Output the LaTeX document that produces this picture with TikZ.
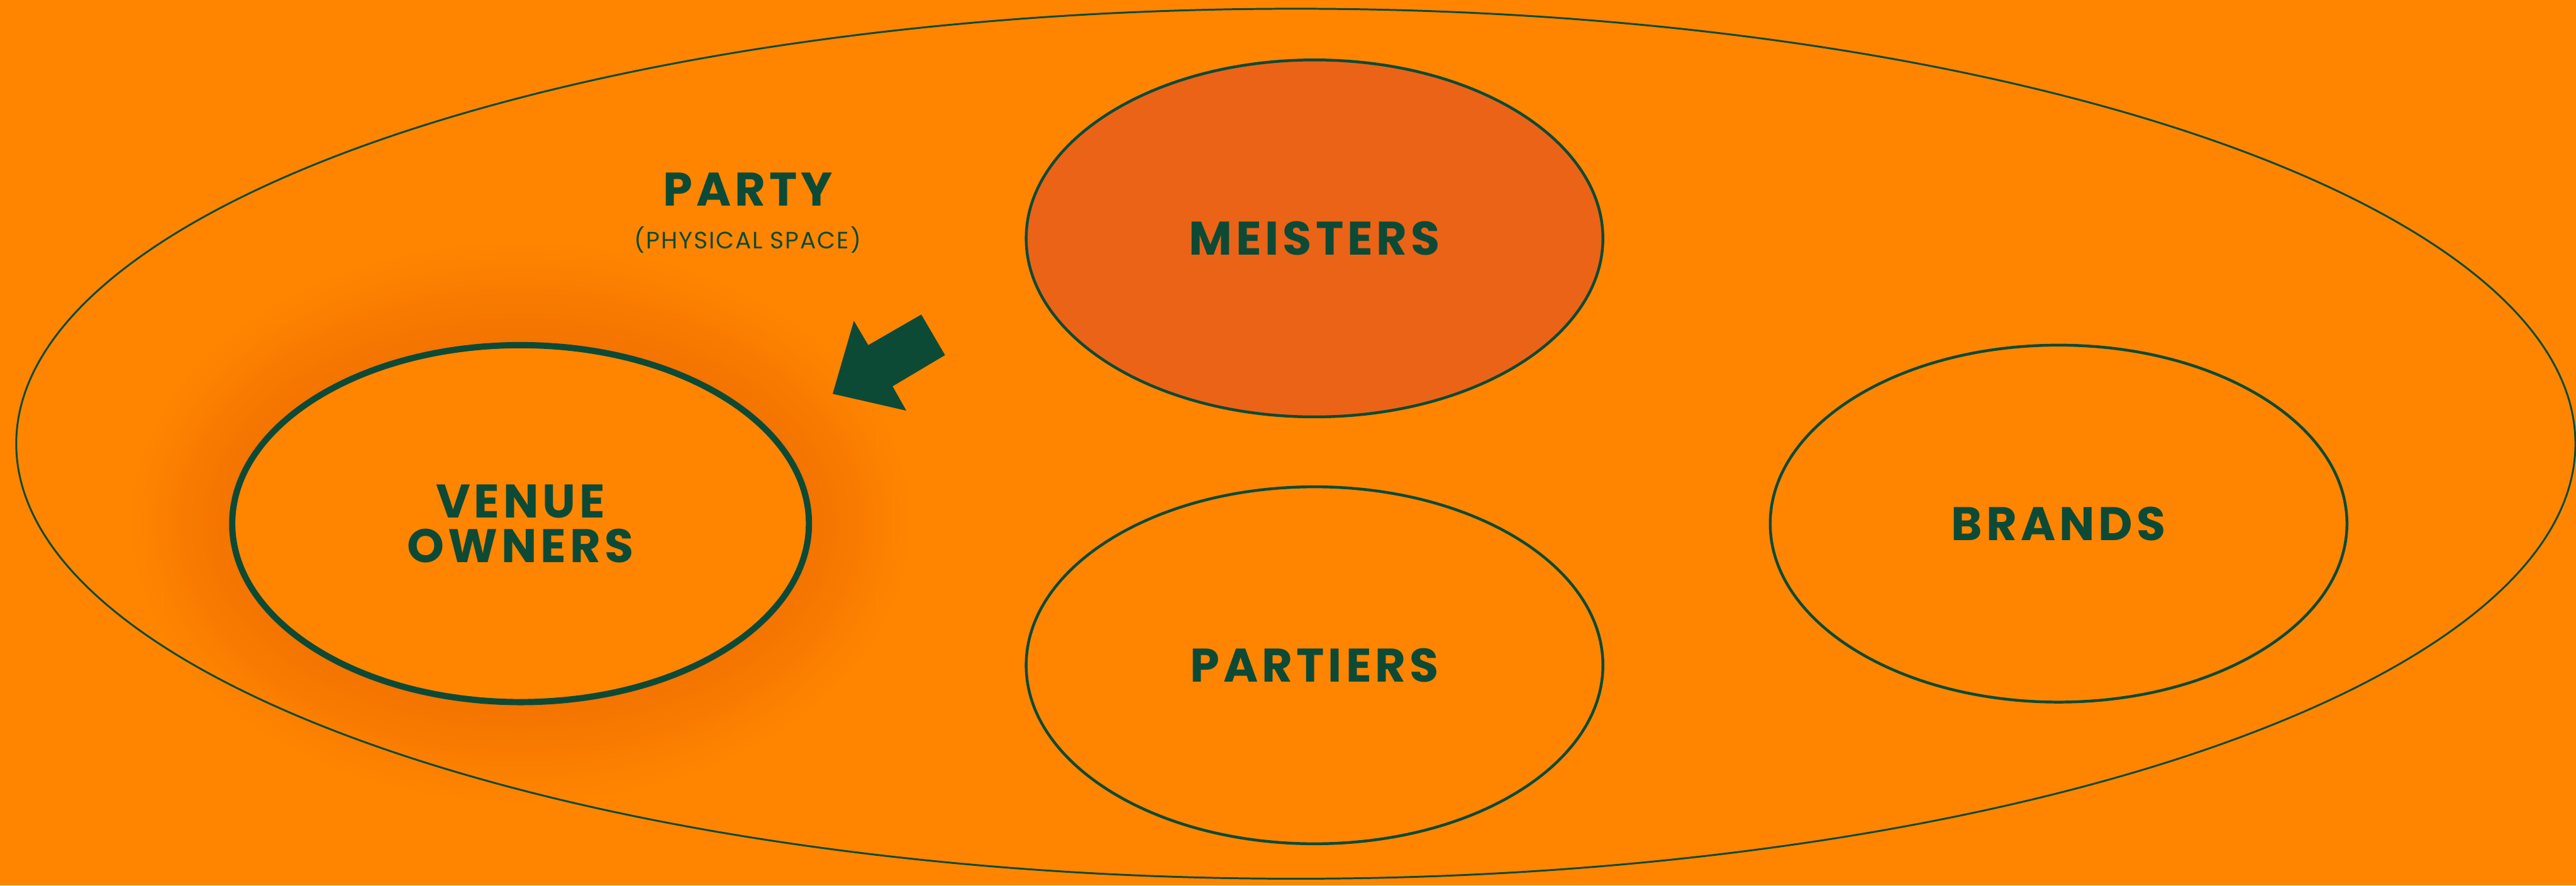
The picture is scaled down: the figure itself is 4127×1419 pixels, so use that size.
\documentclass[tikz,border=0pt]{standalone}
\usepackage{fontspec}
\usetikzlibrary{shapes.geometric}
\newfontfamily\labelfont[LetterSpace=8]{Poppins}
\newfontfamily\smallfont[LetterSpace=5]{Poppins}
\definecolor{fondo}{HTML}{FF8500}
\definecolor{meister}{HTML}{EB6317}
\definecolor{verde}{HTML}{0D4A36}
\definecolor{brillo}{HTML}{DC5200}
\begin{document}
\begin{tikzpicture}[
            x=0.1mm, y=-0.1mm,
            every node/.style={
                text=verde,
                inner sep=0pt,
                font=\labelfont\bfseries\fontsize{21.5}{20.5}\selectfont
            },
            bubble/.style={
                ellipse,
                draw=verde,
                line width=0.45mm,
                minimum width=92.4mm,
                minimum height=57.2mm,
                align=center
            }
        ]

        % Fondo
        \fill[fondo] (0,0) rectangle (4127,1419);
        \useasboundingbox (0,0) rectangle (4127,1419);

        % Brillo
        \foreach \k in {0,...,21}{
            \pgfmathsetmacro{\mezcla}{1.7*\k}
            \fill[brillo!\mezcla!fondo] (834,837) ellipse ({462+(21-\k)*8} and {287+(21-\k)*8});
        }

        % Conjunto exterior
        \node[bubble, line width=0.3mm, minimum width=410mm, minimum height=139.4mm] (party) at (2076,711) {};
        \node (partylabel) at (1198,303) {PARTY};
        \node[font=\smallfont\fontsize{10.8}{12}\selectfont] (physical) at (1198,384) {(PHYSICAL SPACE)};

        % Elipses
        \node[bubble, fill=meister] (meisters) at (2106,382) {MEISTERS};
        \node[bubble, fill=fondo, line width=1mm] (venue) at (834,839) {VENUE\\OWNERS};
        \node[bubble] (partiers) at (2106,1066) {PARTIERS};
        \node[bubble] (brands) at (3298,839) {BRANDS};

        % Flecha
        \fill[verde] (1334,631) -- (1368,514) -- (1391,553) -- (1476,504)
            -- (1514,569) -- (1430,619) -- (1452,658) -- cycle;

        \end{tikzpicture}
\end{document}
